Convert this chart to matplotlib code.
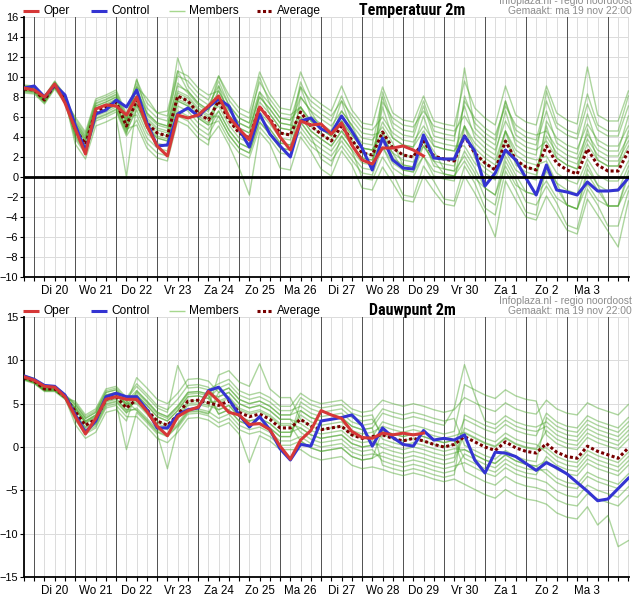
import numpy as np
import matplotlib
matplotlib.use('Agg')
import matplotlib.pyplot as plt
from matplotlib.lines import Line2D
from matplotlib import font_manager

plt.rcParams['font.family'] = ['Liberation Sans', 'DejaVu Sans']

# 6-hourly steps, starting ma 19 nov 18:00
steps = np.arange(60)
day_labels = ['Di 20', 'Wo 21', 'Do 22', 'Vr 23', 'Za 24', 'Zo 25', 'Ma 26',
              'Di 27', 'Wo 28', 'Do 29', 'Vr 30', 'Za 1', 'Zo 2', 'Ma 3']

# ---- Temperatuur 2m ----
t2m_oper = [8.9, 8.7, 8.0, 9.3, 7.4, 4.8, 2.3, 6.8, 7.2, 7.1, 6.2, 8.0, 5.1, 3.1, 2.1,
            6.2, 5.9, 6.2, 7.1, 8.1, 6.0, 4.8, 3.7, 7.0, 5.7, 4.0, 2.7, 5.6, 5.2, 5.3,
            4.3, 5.4, 3.2, 1.7, 1.3, 2.9, 2.9, 3.1, 2.7, 2.1]
t2m_control = [8.9, 9.1, 8.0, 9.2, 8.2, 5.2, 2.6, 6.3, 6.7, 7.7, 7.0, 8.7, 5.4, 3.1, 3.2,
               6.3, 6.9, 6.1, 7.0, 7.8, 7.1, 4.8, 3.0, 6.3, 4.3, 3.1, 2.0, 5.6, 5.9, 4.8,
               4.4, 6.1, 4.6, 2.9, 0.7, 3.9, 1.7, 0.9, 0.8, 4.2, 1.9, 1.8, 1.8, 4.1, 2.6,
               -0.9, 0.4, 2.7, 1.7, -0.1, -1.8, 1.2, -1.3, -1.5, -1.8, -0.5, -1.4, -1.4, -1.3, -0.1]
t2m_average = [8.8, 8.7, 7.7, 9.2, 7.8, 4.8, 3.3, 6.6, 7.0, 7.5, 5.1, 7.7, 5.4, 4.4, 4.1,
               8.1, 7.6, 6.4, 5.7, 7.6, 5.7, 4.4, 3.9, 7.0, 5.8, 4.4, 4.2, 6.5, 5.1, 4.3,
               3.6, 5.1, 3.7, 2.4, 2.2, 4.5, 2.9, 2.2, 2.0, 3.6, 2.1, 1.8, 1.6, 4.1, 2.4,
               1.4, 0.7, 3.6, 1.7, 1.0, 0.7, 3.1, 1.4, 0.7, 0.3, 2.8, 1.2, 0.6, 0.6, 2.6]
t2m_members = [
    [9.1, 9.0, 8.0, 9.5, 8.1, 5.8, 4.3, 7.6, 8.0, 8.5, 6.1, 9.7, 7.4, 6.4, 6.1, 10.1, 9.6, 8.4, 7.7,
     10.1, 8.2, 6.9, 6.4, 10.5, 8.3, 6.9, 6.7, 10.5, 8.1, 7.3, 6.6, 9.1, 6.7, 5.4, 5.2,
     9.0, 6.4, 5.7, 5.5, 8.1, 5.6, 5.3, 5.1, 9.6, 6.9, 5.9, 5.2, 9.1, 6.2, 5.5, 5.2,
     9.1, 6.4, 5.7, 5.3, 11.0, 6.2, 5.6, 5.6, 8.6],
    [8.5, 8.4, 7.4, 8.9, 7.5, 3.8, 2.3, 5.6, 6.0, 6.5, 4.1, 5.7, 3.4, 2.4, 2.1, 6.1, 5.6, 4.4, 3.7,
     5.1, 3.2, 0.9, -1.8, 4.5, 3.3, 0.9, 0.7, 4.0, 2.6, 0.8, 0.1, 2.6, 1.2, -1.1, -1.3,
     1.0, -0.6, -2.3, -2.5, 0.1, -1.4, -2.7, -2.9, 0.1, -1.6, -3.6, -6.0, -0.4, -2.3, -4.0, -4.3,
     -1.9, -3.6, -5.3, -5.7, -2.2, -3.8, -5.4, -7.0, -2.4],
    [9.0, 8.9, 7.9, 9.4, 8.0, 5.3, 3.8, 7.1, 7.5, 8.0, 5.6, 9.8, 6.4, 5.4, 5.1, 10.6, 8.6, 7.4, 6.7,
     9.6, 7.2, 5.9, 5.4, 10.0, 7.3, 5.9, 5.7, 9.0, 6.1, 5.3, 4.6, 7.6, 4.7, 3.4, 3.2,
     8.0, 4.9, 4.2, 4.0, 7.1, 4.1, 3.8, 3.6, 10.9, 4.9, 3.9, 3.2, 7.6, 4.2, 3.5, 3.2,
     6.6, 3.4, 2.7, 2.3, 6.3, 3.2, 2.6, 2.6, 6.1],
    [8.6, 8.5, 7.5, 9.0, 7.6, 4.3, 2.8, 6.1, 6.5, 7.0, 4.6, 6.7, 4.4, 3.4, 3.1, 7.1, 6.6, 5.4, 4.7,
     6.6, 4.7, 3.4, 2.9, 6.0, 4.8, 3.4, 3.2, 4.5, 3.1, 2.3, 1.6, 3.1, 1.7, 0.4, 0.2,
     3.0, 1.4, 0.7, 0.5, 2.1, 0.6, 0.3, 0.1, 1.6, -0.1, -1.1, -1.8, 1.1, -0.8, -1.5, -1.8,
     -0.4, -2.1, -2.8, -3.2, -0.7, -2.3, -2.9, -2.9, -0.9],
    [8.9, 8.8, 7.8, 9.3, 7.9, 5.1, 3.6, 6.9, 7.3, 7.8, 5.4, 8.2, 5.9, 4.9, 4.6, 8.6, 8.1, 6.9, 6.2,
     7.1, 5.2, 3.9, 3.4, 6.5, 5.3, 3.9, 3.7, 7.0, 5.6, 4.8, 4.1, 5.6, 4.2, 2.9, 2.7,
     5.5, 3.9, 3.2, 3.0, 4.6, 3.1, 2.8, 2.6, 4.1, 2.4, 1.4, 0.7, 3.6, 1.7, 1.0, 0.7,
     4.1, 2.4, 1.7, 1.3, 3.8, 2.2, 1.6, 1.6, 3.6],
    [8.7, 8.6, 7.6, 9.1, 7.7, 4.5, 3.0, 6.3, 6.7, 7.2, 4.8, 7.7, 5.4, 4.4, 4.1, 8.1, 7.6, 6.4, 5.7,
     8.1, 6.2, 4.9, 4.4, 7.5, 6.3, 4.9, 4.7, 6.0, 4.6, 3.8, 3.1, 4.6, 3.2, 1.9, 1.7,
     4.0, 2.4, 1.7, 1.5, 3.1, 1.6, 1.3, 1.1, 5.1, 3.4, 2.4, 1.7, 4.6, 2.7, 2.0, 1.7,
     2.1, 0.4, -0.3, -0.7, 1.8, 0.2, -0.4, -0.4, 1.6],
    [9.2, 9.1, 8.1, 9.6, 8.2, 4.0, 2.5, 5.8, 6.2, 6.7, 4.3, 9.3, 6.9, 5.9, 5.6, 11.9, 9.1, 7.9, 7.2,
     9.1, 6.2, 4.9, 4.4, 8.5, 6.3, 4.9, 4.7, 9.5, 7.1, 6.3, 5.6, 8.1, 5.7, 4.4, 4.2,
     4.5, 1.9, 1.2, 1.0, 3.6, 1.1, 0.8, 0.6, 8.1, 5.4, 4.4, 3.7, 7.6, 4.7, 4.0, 3.7,
     7.6, 4.9, 4.2, 3.8, 7.3, 4.7, 4.1, 4.1, 7.1],
    [8.4, 8.3, 7.3, 8.8, 7.4, 5.6, 4.1, 7.4, 7.8, 8.3, 5.9, 6.2, 3.9, 2.9, 2.6, 6.6, 6.1, 4.9, 4.2,
     6.1, 4.2, 2.9, 2.4, 5.5, 4.3, 2.9, 2.7, 5.5, 4.1, 1.8, 1.1, 4.1, 2.7, -0.1, -0.3,
     2.0, 0.4, -1.8, -2.0, 1.1, -0.4, -2.2, -2.4, 1.1, -0.6, -3.1, -3.8, 0.6, -1.3, -3.5, -3.8,
     1.1, -0.6, -2.8, -3.2, 0.8, -0.8, -2.9, -2.9, 0.6],
    [8.8, 8.7, 7.7, 9.2, 7.8, 5.3, 3.8, 7.1, 7.5, 8.0, 5.6, 9.0, 7.9, 6.4, 6.6, 10.6, 10.1, 8.9, 8.2,
     8.6, 6.7, 5.4, 4.9, 8.0, 6.8, 5.4, 5.2, 5.0, 3.6, 2.8, 2.1, 3.6, 2.2, 0.9, 0.7,
     8.5, 5.4, 4.7, 4.5, 7.6, 4.6, 4.3, 4.1, 7.1, 3.9, 2.9, 2.2, 6.6, 3.2, 2.5, 2.2,
     8.6, 5.4, 4.7, 4.3, 8.3, 5.2, 4.6, 4.6, 8.1],
    [8.8, 8.7, 7.7, 9.2, 7.8, 3.3, 1.8, 5.1, 5.5, 6.0, 0.0, 7.2, 4.9, 3.9, 3.6, 7.6, 7.1, 5.9, 5.2,
     5.6, 3.7, 2.4, 1.9, 5.0, 3.8, 2.4, 2.2, 8.0, 6.6, 5.8, 5.1, 6.6, 5.2, 3.9, 3.7,
     5.0, 3.4, 1.2, 1.0, 4.1, 2.6, 0.8, 0.6, 2.1, 0.4, -2.1, -2.8, 1.6, -0.3, -2.5, -2.8,
     -0.9, -2.6, -4.8, -5.2, -1.2, -2.8, -4.9, -4.9, -1.4],
    [8.9, 8.8, 7.8, 9.3, 7.9, 5.5, 4.0, 7.3, 7.7, 8.2, 5.8, 9.0, 6.2, 5.2, 4.9, 9.4, 8.4, 7.2, 6.5,
     10.1, 7.7, 6.4, 5.9, 9.5, 7.8, 6.4, 6.2, 7.0, 5.1, 4.3, 3.6, 5.6, 3.7, 2.4, 2.2,
     3.0, 0.9, 0.2, 0.0, 2.1, 0.1, -0.2, -0.4, 5.1, 2.9, 1.9, 1.2, 4.6, 2.2, 1.5, 1.2,
     1.6, -0.6, -1.3, -1.7, 1.3, -0.8, -1.4, -1.4, 1.1],
    [8.7, 8.6, 7.6, 9.1, 7.7, 4.1, 2.6, 5.9, 6.3, 6.8, 4.4, 7.2, 4.9, 3.9, 3.6, 7.6, 7.1, 5.9, 5.2,
     7.6, 5.7, 4.4, 3.9, 7.0, 5.8, 4.4, 4.2, 9.0, 7.6, 6.8, 6.1, 7.6, 6.2, 4.9, 4.7,
     6.0, 4.4, 3.7, 3.5, 5.1, 3.6, 3.3, 3.1, 3.1, 1.4, 0.4, -0.3, 2.6, 0.7, 0.0, -0.3,
     5.6, 3.9, 3.2, 2.8, 5.3, 3.7, 3.1, 3.1, 5.1],
    [9.0, 8.9, 7.9, 9.4, 8.0, 5.0, 3.5, 6.8, 7.2, 7.7, 5.3, 7.4, 5.1, 4.1, 3.8, 7.8, 7.3, 6.1, 5.4,
     6.6, 4.7, 3.4, 2.9, 6.0, 4.8, 3.4, 3.2, 6.0, 4.6, 3.8, 3.1, 4.6, 3.2, 1.9, 1.7,
     7.5, 5.9, 5.2, 5.0, 6.6, 5.1, 4.8, 4.6, 6.1, 4.4, 3.4, 2.7, 5.6, 3.7, 3.0, 2.7,
     3.6, 1.9, 1.2, 0.8, 3.3, 1.7, 1.1, 1.1, 3.1],
    [8.6, 8.5, 7.5, 9.0, 7.6, 6.0, 4.5, 7.8, 8.2, 8.7, 6.3, 8.7, 6.4, 5.4, 5.1, 9.1, 8.6, 7.4, 6.7,
     8.6, 6.7, 5.4, 4.9, 8.0, 6.8, 5.4, 5.2, 8.0, 6.6, 4.8, 4.1, 6.6, 5.2, 2.9, 2.7,
     4.0, 2.4, 0.7, 0.5, 3.1, 1.6, 0.3, 0.1, 2.6, 0.9, -1.1, -1.8, 2.1, 0.2, -1.5, -1.8,
     0.6, -1.1, -2.8, -3.2, 0.3, -1.3, -2.9, -2.9, 0.1],
    [9.1, 9.0, 8.0, 9.5, 8.1, 4.5, 3.0, 6.3, 6.7, 7.2, 4.8, 5.2, 2.9, 1.9, 1.6, 5.6, 5.1, 3.9, 3.2,
     9.1, 7.2, 5.9, 5.4, 8.5, 7.3, 5.9, 5.7, 7.0, 5.6, 4.8, 4.1, 5.6, 4.2, 2.9, 2.7,
     4.5, 2.9, 2.2, 2.0, 3.6, 2.1, 1.8, 1.6, 7.6, 5.9, 4.9, 4.2, 7.1, 5.2, 4.5, 4.2,
     4.6, 2.9, 2.2, 1.8, 4.3, 2.7, 2.1, 2.1, 4.1],
    [8.8, 8.7, 7.7, 9.2, 7.8, 4.6, 3.1, 6.4, 6.8, 7.3, 4.9, 8.0, 5.7, 4.7, 4.4, 8.4, 7.9, 6.7, 6.0,
     6.1, 4.2, 2.9, 2.4, 5.5, 4.3, 2.9, 2.7, 5.5, 4.1, 3.3, 2.6, 4.1, 2.7, 1.4, 1.2,
     7.0, 3.9, 3.2, 3.0, 6.1, 3.1, 2.8, 2.6, 5.1, 1.9, 0.9, 0.2, 4.6, 1.2, 0.5, 0.2,
     5.1, 1.9, 1.2, 0.8, 4.8, 1.7, 1.1, 1.1, 4.6],
]

# ---- Dauwpunt 2m ----
td_oper = [8.1, 7.7, 7.0, 6.9, 5.8, 3.5, 1.5, 3.3, 5.5, 5.8, 5.5, 5.5, 4.1, 2.4, 1.3,
           3.5, 4.2, 4.6, 6.4, 5.3, 4.0, 3.7, 2.6, 2.7, 2.0, 0.1, -1.4, 0.8, 1.9, 4.2,
           3.7, 3.3, 1.8, 1.1, 1.0, 1.6, 1.4, 1.6, 1.4, 1.6]
td_control = [8.2, 7.8, 7.1, 7.0, 6.0, 3.7, 1.7, 3.0, 5.8, 6.2, 5.8, 5.8, 4.3, 2.2, 2.2,
              3.7, 4.3, 4.5, 6.5, 6.9, 5.5, 3.7, 2.3, 3.5, 2.0, -0.2, -1.5, 0.3, 0.1, 3.0,
              3.2, 3.4, 3.7, 2.5, 0.1, 2.2, 1.1, 0.3, 0.1, 1.9, 0.8, 1.0, 0.8, 1.4, -1.5,
              -3.0, -0.6, -0.7, -1.1, -1.9, -2.7, -1.8, -2.4, -3.1, -4.1, -5.1, -6.2, -6.0, -4.8, -3.6]
td_average = [8.0, 7.6, 6.7, 6.7, 5.8, 4.1, 2.5, 3.2, 5.5, 5.8, 4.5, 5.5, 4.3, 3.0, 2.5,
              3.7, 5.3, 5.4, 5.1, 4.8, 5.3, 4.0, 3.5, 3.8, 3.2, 2.2, 2.2, 3.2, 2.4, 2.0,
              2.2, 2.4, 1.4, 1.0, 1.2, 1.4, 1.0, 0.7, 1.0, 0.7, 0.3, 0.0, 0.3, 1.2, 0.6,
              0.0, -0.4, 0.6, -0.1, -0.5, -0.7, 0.4, -0.6, -1.1, -1.3, 0.1, -0.5, -0.9, -1.3, -0.1]
td_members = [
    [8.2, 7.8, 6.9, 6.9, 6.0, 5.1, 3.5, 4.2, 6.5, 6.8, 5.5, 7.0, 5.8, 4.5, 4.0, 9.4, 6.8, 6.9, 6.6,
     7.3, 7.8, 6.5, 6.0, 6.3, 5.7, 4.7, 4.7, 6.2, 5.4, 5.0, 5.2, 5.4, 4.4, 4.0, 4.2,
     5.4, 5.0, 4.7, 5.0, 4.7, 4.3, 4.0, 4.3, 5.7, 5.1, 4.5, 4.1, 5.1, 4.4, 4.0, 3.8,
     5.4, 4.4, 3.9, 3.7, 5.1, 4.5, 4.1, 3.7, 4.9],
    [7.8, 7.4, 6.5, 6.5, 5.6, 3.1, 1.5, 2.2, 4.5, 4.8, 3.5, 3.5, 2.3, 1.0, 0.5, 1.7, 3.3, 3.4, 3.1,
     2.3, 2.8, 1.5, -1.8, 1.3, 0.7, -0.3, -0.3, -0.3, -1.1, -1.5, -1.3, -1.1, -2.1, -2.5, -2.3,
     -2.6, -3.0, -3.3, -3.0, -3.3, -3.7, -4.0, -3.7, -4.3, -4.9, -5.5, -5.9, -4.9, -5.6, -6.0, -6.2,
     -6.6, -7.6, -8.1, -8.3, -6.9, -9.0, -7.9, -11.5, -10.8],
    [8.1, 7.7, 6.8, 6.8, 5.9, 4.6, 3.0, 3.7, 6.0, 6.3, 5.0, 8.0, 6.8, 5.5, 5.0, 6.2, 7.8, 7.9, 7.6,
     6.3, 6.8, 5.5, 5.0, 5.3, 4.7, 3.7, 3.7, 4.2, 3.4, 3.0, 3.2, 3.4, 2.4, 2.0, 2.2,
     3.9, 3.5, 3.2, 3.5, 3.2, 2.8, 2.5, 4.5, 9.5, 6.0, 3.0, 2.6, 3.6, 2.9, 2.5, 2.3,
     2.9, 1.9, 1.4, 1.2, 2.6, 2.0, 1.6, 1.2, 2.4],
    [7.9, 7.5, 6.6, 6.6, 5.7, 3.6, 2.0, 2.7, 5.0, 5.3, 4.0, 4.5, 3.3, 2.0, 1.5, 2.7, 4.3, 4.4, 4.1,
     3.3, 3.8, 2.5, 2.0, 2.3, 1.7, 0.7, 0.7, 1.2, 0.4, 0.0, 0.2, 0.4, -0.6, -1.0, -0.8,
     -1.1, -1.5, -1.8, -1.5, -1.8, -2.2, -2.5, -2.2, -1.8, -2.4, -3.0, -3.4, -2.4, -3.1, -3.5, -3.7,
     -4.1, -5.1, -5.6, -5.8, -4.4, -5.0, -5.4, -5.8, -4.6],
    [8.0, 7.6, 6.7, 6.7, 5.8, 4.4, 2.8, 3.5, 5.8, 6.1, 4.8, 6.0, 4.8, 3.5, 3.0, 4.2, 5.8, 5.9, 5.6,
     4.3, 4.8, 3.5, 3.0, 3.3, 2.7, 1.7, 1.7, 3.7, 2.9, 2.5, 2.7, 2.9, 1.9, 1.5, 1.7,
     2.4, 2.0, 1.7, 2.0, 1.7, 1.3, 1.0, 1.3, 1.7, 1.1, 0.5, 0.1, 1.1, 0.4, 0.0, -0.2,
     1.9, 0.9, 0.4, 0.2, 1.6, 1.0, 0.6, 0.2, 1.4],
    [8.1, 7.7, 6.8, 6.8, 5.9, 3.8, 2.2, 2.9, 5.2, 5.5, 4.2, 5.5, 4.3, 3.0, 2.5, 3.7, 5.3, 5.4, 5.1,
     5.3, 5.8, 4.5, 4.0, 4.3, 3.7, 2.7, 2.7, 2.2, 1.4, 1.0, 1.2, 1.4, 0.4, 0.0, 0.2,
     0.4, 0.0, -0.3, 0.0, -0.3, -0.7, -1.0, -0.7, -0.3, -0.9, -1.5, -1.9, -0.9, -1.6, -2.0, -2.2,
     -1.6, -2.6, -3.1, -3.3, -1.9, -2.5, -2.9, -3.3, -2.1],
    [7.9, 7.5, 6.6, 6.6, 5.7, 2.6, 1.0, 1.7, 4.0, 4.3, 3.0, 6.5, 5.3, 4.0, 3.5, 4.7, 6.3, 6.4, 6.1,
     3.8, 4.3, 3.0, 2.5, 2.8, 2.2, 1.2, 1.2, 5.2, 4.4, 4.0, 4.2, 4.4, 3.4, 3.0, 3.2,
     1.4, 1.0, 0.7, 1.0, 0.7, 0.3, 0.0, 0.3, 3.2, 2.6, 2.0, 1.6, 2.6, 1.9, 1.5, 1.3,
     3.9, 2.9, 2.4, 2.2, 3.6, 3.0, 2.6, 2.2, 3.4],
    [8.2, 7.8, 6.9, 6.9, 6.0, 4.9, 3.3, 4.0, 6.3, 6.6, 5.3, 4.2, 3.0, 1.7, 1.2, 2.4, 4.0, 4.1, 3.8,
     5.8, 6.3, 5.0, 4.5, 4.8, 4.2, 3.2, 3.2, 1.7, 0.9, 0.5, 0.7, 0.9, -0.1, -0.5, -0.3,
     -1.6, -2.0, -2.3, -2.0, -2.3, -2.7, -3.0, -2.7, -0.8, -1.4, -2.0, -2.4, -1.4, -2.1, -2.5, -2.7,
     -2.6, -3.6, -4.1, -4.3, -2.9, -3.5, -3.9, -4.3, -3.1],
    [7.8, 7.4, 6.5, 6.5, 5.6, 4.6, 3.0, 3.7, 6.0, 6.3, 5.0, 5.0, 3.8, 2.5, 2.0, 3.2, 4.8, 4.9, 4.6,
     8.3, 8.8, 7.5, 7.0, 9.6, 6.7, 5.7, 5.7, 3.2, 2.4, 2.0, 2.2, 2.4, 1.4, 1.0, 1.2,
     2.9, 2.5, 2.2, 2.5, 2.2, 1.8, 1.5, 1.8, 7.2, 6.6, 6.0, 5.6, 6.6, 5.9, 5.5, 5.3,
     1.4, 0.4, -0.1, -0.3, 1.1, 0.5, 0.1, -0.3, 0.9],
    [8.0, 7.6, 6.7, 6.7, 5.8, 3.3, 1.7, 2.4, 4.7, 5.0, -0.3, 4.0, 2.8, 1.5, -2.5, 2.2, 3.8, 3.9, 3.6,
     2.8, 3.3, 2.0, 1.5, 1.8, 1.2, 0.2, 0.2, 0.7, -0.1, -0.5, -0.3, -0.1, -1.1, -1.5, -1.3,
     1.9, 1.5, 1.2, 1.5, 1.2, 0.8, 0.5, 0.8, -2.8, -3.4, -4.0, -4.4, -3.4, -4.1, -4.5, -4.7,
     -5.1, -6.1, -6.6, -6.8, -5.4, -6.0, -6.4, -6.8, -5.6],
    [8.1, 7.7, 6.8, 6.8, 5.9, 4.9, 3.3, 4.0, 6.3, 6.6, 5.3, 6.5, 5.3, 4.0, 3.5, 4.7, 6.3, 6.4, 6.1,
     5.8, 6.3, 5.0, 4.5, 4.8, 4.2, 3.2, 3.2, 2.7, 1.9, 1.5, 1.7, 1.9, 0.9, 0.5, 0.7,
     -0.1, -0.5, -0.8, -0.5, -0.8, -1.2, -1.5, -1.2, 2.2, 1.6, 1.0, 0.6, 1.6, 0.9, 0.5, 0.3,
     -0.6, -1.6, -2.1, -2.3, -0.9, -1.5, -1.9, -2.3, -1.1],
    [7.9, 7.5, 6.6, 6.6, 5.7, 3.5, 1.9, 2.6, 4.9, 5.2, 3.9, 6.0, 4.8, 3.5, 3.0, 4.2, 5.8, 5.9, 5.6,
     6.8, 7.3, 6.0, 5.5, 5.8, 5.2, 4.2, 4.2, 4.7, 3.9, 3.5, 3.7, 3.9, 2.9, 2.5, 2.7,
     4.4, 4.0, 3.7, 4.0, 3.7, 3.3, 3.0, 3.3, 0.2, -0.4, -1.0, -1.4, -0.4, -1.1, -1.5, -1.7,
     3.4, 2.4, 1.9, 1.7, 3.1, 2.5, 2.1, 1.7, 2.9],
    [8.2, 7.8, 6.9, 6.9, 6.0, 4.3, 2.7, 3.4, 5.7, 6.0, 4.7, 5.2, 4.0, 2.7, 2.2, 3.4, 5.0, 5.1, 4.8,
     4.3, 4.8, 3.5, 3.0, 3.3, 2.7, 1.7, 1.7, 2.2, 1.4, 1.0, 1.2, 1.4, 0.4, 0.0, 0.2,
     1.9, 1.5, 1.2, 1.5, 1.2, 0.8, 0.5, 0.8, -1.3, -1.9, -2.5, -2.9, -1.9, -2.6, -3.0, -3.2,
     -1.1, -2.1, -2.6, -2.8, -1.4, -2.0, -2.4, -2.8, -1.6],
    [7.8, 7.4, 6.5, 6.5, 5.6, 5.3, 3.7, 4.4, 6.7, 7.0, 5.7, 7.3, 6.1, 4.8, 4.3, 5.5, 7.1, 7.2, 6.9,
     5.1, 5.6, 4.3, 3.8, 4.1, 3.5, 2.5, 2.5, 0.7, -0.1, -0.5, -0.3, -0.1, -1.1, -1.5, -1.3,
     -0.6, -1.0, -1.3, -1.0, -1.3, -1.7, -2.0, -1.7, 1.6, 1.0, 0.4, 0.0, 1.0, 0.3, -0.1, -0.3,
     -0.1, -1.1, -1.6, -1.8, -0.4, -1.0, -1.4, -1.8, -0.6],
    [8.3, 7.9, 7.0, 7.0, 6.1, 3.9, 2.3, 3.0, 5.3, 5.6, 4.3, 4.3, 3.1, 1.8, 1.3, 2.5, 4.1, 4.2, 3.9,
     6.3, 6.8, 5.5, 5.0, 5.3, 4.7, 3.7, 3.7, 5.7, 4.9, 4.5, 4.7, 4.9, 3.9, 3.5, 3.7,
     0.9, 0.5, 0.2, 0.5, 0.2, -0.2, -0.5, -0.2, -0.3, -0.9, -1.5, -1.9, -0.9, -1.6, -2.0, -2.2,
     -3.1, -4.1, -4.6, -4.8, -3.4, -4.0, -4.4, -4.8, -3.6],
    [7.7, 7.3, 6.4, 6.4, 5.5, 4.5, 2.9, 3.6, 5.9, 6.2, 4.9, 6.3, 5.1, 3.8, 3.3, 4.5, 6.1, 6.2, 5.9,
     3.8, 4.3, 3.0, 2.5, 2.8, 2.2, 1.2, 1.2, 4.2, 3.4, 3.0, 3.2, 3.4, 2.4, 2.0, 2.2,
     -2.1, -2.5, -2.8, -2.5, -2.8, -3.2, -3.5, -3.2, 3.7, 3.1, 2.5, 2.1, 3.1, 2.4, 2.0, 1.8,
     2.4, 1.4, 0.9, 0.7, 2.1, 1.5, 1.1, 0.7, 1.9],
]

W, H = 634, 596
fig = plt.figure(figsize=(W / 100, H / 100), dpi=100)

red = '#d63838'
blue = '#3434d2'
green = '#4aa52a'
darkred = '#780000'

# condensed bold face for the titles, if one is installed
_fonts = font_manager.fontManager.ttflist
_names = {f.name for f in _fonts}
title_kw = dict(family=['Liberation Sans', 'DejaVu Sans'], fontsize=9.8)
for cand in ['Liberation Sans Narrow', 'Roboto Condensed', 'Open Sans Condensed', 'Noto Sans Condensed']:
    if cand in _names:
        title_kw = dict(family=[cand, 'Liberation Sans', 'DejaVu Sans'], fontsize=11.5)
        break
else:
    if any(f.name == 'DejaVu Sans' and f.stretch == 'condensed' and f.weight in ('bold', 700) for f in _fonts):
        title_kw = dict(family=['DejaVu Sans'], fontstretch='condensed', fontsize=10.5)


def fx(px):
    return px / W


def fy(py):
    return 1 - py / H


def header(ytop, title):
    y = fy(ytop)
    items = [(23, 39, dict(color=red, lw=2.2), 'Oper', 43),
             (91, 107, dict(color=blue, lw=2.2), 'Control', 111),
             (169, 185, dict(color='#a6d78e', lw=1.0), 'Members', 188.5),
             (257, 272, dict(color=darkred, lw=2.2, dashes=(1, 0.8)), 'Average', 277)]
    for x0, x1, st, lab, xt in items:
        fig.add_artist(Line2D([fx(x0), fx(x1)], [y, y], transform=fig.transFigure,
                              solid_capstyle='butt', dash_capstyle='butt', **st))
        fig.text(fx(xt), y, lab, fontsize=8.6, va='center', ha='left')
    fig.text(fx(412), y, title, fontweight='bold', va='center', ha='center', **title_kw)
    # the reference shows this line half cut off by the top edge
    fig.text(fx(632), fy(ytop - 9.5), 'Infoplaza.nl - regio noordoost', fontsize=7.4,
             color='#8c8c8c', va='center', ha='right')
    fig.text(fx(632), y, 'Gemaakt: ma 19 nov 22:00', fontsize=7.4,
             color='#8c8c8c', va='center', ha='right')


def panel(top_px, members, average, control, oper, ylim, yticks, zero_line):
    ax = fig.add_axes([fx(24), fy(top_px + 260), fx(605), 260 / H])
    ax.set_xlim(0.09, 59.06)
    ax.set_ylim(*ylim)
    ax.set_yticks(yticks)
    ax.set_xticks(steps, minor=True)
    ax.set_xticks(steps[3::4][:len(day_labels)])
    ax.set_xticklabels(day_labels)
    for yv in yticks:
        ax.axhline(yv, color='#dcdcdc', lw=0.72, zorder=0)
    for k in steps:
        if k % 4 == 1:
            ax.axvline(k, color='#555555', lw=0.72, zorder=1)
        else:
            ax.axvline(k, color='#dcdcdc', lw=0.72, zorder=0)
    for s in ['top', 'right']:
        ax.spines[s].set_visible(False)
    for s in ['left', 'bottom']:
        ax.spines[s].set_linewidth(1.3)
    ax.tick_params(which='both', axis='x', length=3, width=0.8, pad=2.5, labelsize=8.4)
    ax.tick_params(axis='y', length=3, width=0.8, pad=1, labelsize=7.9)
    if zero_line:
        ax.axhline(0, color='black', lw=2.0, zorder=5)
    for m in members:
        ax.plot(steps, m, color=green, lw=1.0, alpha=0.45, zorder=2)
    ax.plot(steps, average, color=darkred, lw=2.2, dashes=(1, 0.8), zorder=3)
    ax.plot(steps, control, color=blue, lw=2.2, zorder=4)
    ax.plot(steps[:len(oper)], oper, color=red, lw=2.2, zorder=4)
    return ax


header(10.7, 'Temperatuur 2m')
panel(17, t2m_members, t2m_average, t2m_control, t2m_oper, (-10, 16), np.arange(-10, 17, 2), True)
header(310.7, 'Dauwpunt 2m')
panel(317, td_members, td_average, td_control, td_oper, (-15, 15), np.arange(-15, 16, 5), False)

fig.savefig('out.png', dpi=100)
